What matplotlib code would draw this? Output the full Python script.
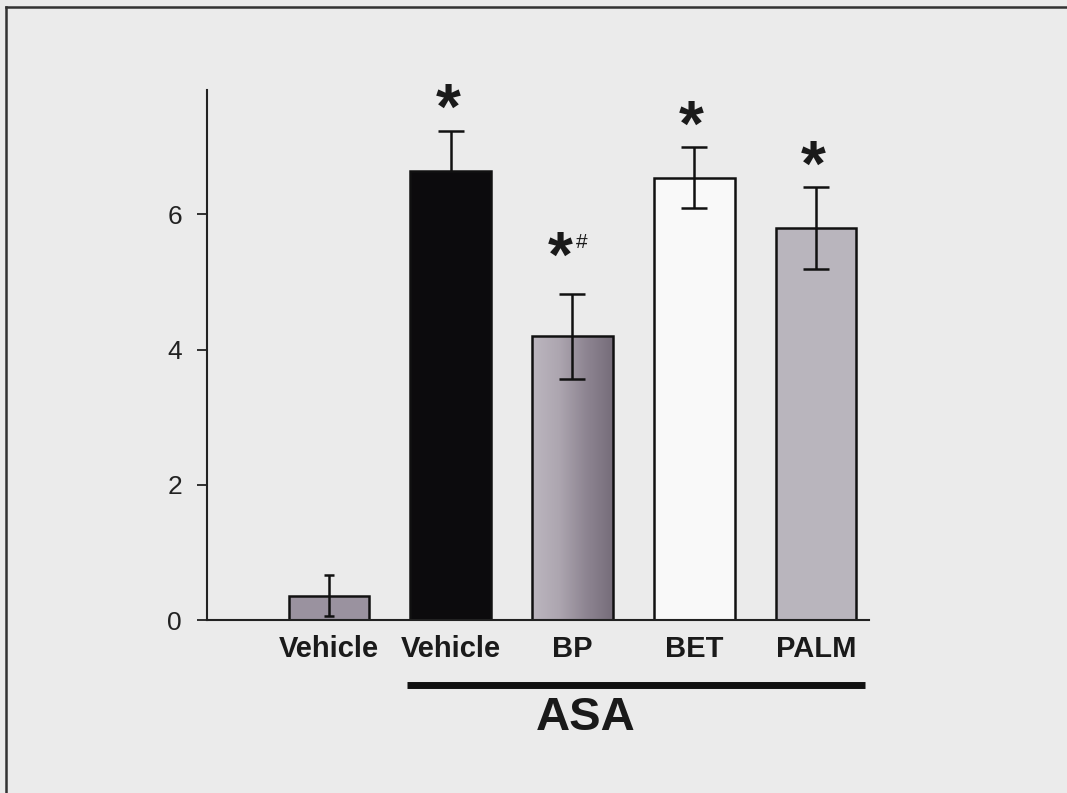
import matplotlib
matplotlib.use("Agg")
import matplotlib.pyplot as plt
import numpy as np
from matplotlib.lines import Line2D
from matplotlib.colors import LinearSegmentedColormap

# Data
groups = ["Vehicle", "Vehicle", "BP", "BET", "PALM"]
means = [0.36, 6.64, 4.20, 6.54, 5.80]
errors = [0.30, 0.60, 0.63, 0.45, 0.60]
marks = ["", "*", "*", "*", "*"]
extra_marks = ["", "", "#", "", ""]
yticks = [0, 2, 4, 6]
bracket_label = "ASA"

bg = "#ebebeb"
face_colors = ["#9a929f", "#0c0b0d", None, "#f9f9f9", "#b9b5bd"]
cap_sizes = [3.5, 9.5, 9.5, 9.5, 9.5]

narrow = ["Liberation Sans Narrow", "Liberation Sans", "DejaVu Sans"]
plain = ["Liberation Sans", "DejaVu Sans"]

fig = plt.figure(figsize=(10.67, 7.93), dpi=100, facecolor=bg)
ax = fig.add_axes([0.194, 0.218, 0.62, 0.6685])
ax.set_facecolor(bg)

x = np.arange(len(groups))
width = 0.66
bars = ax.bar(x, means, width=width, color=[c if c else "none" for c in face_colors],
              edgecolor="#111111", linewidth=1.8, zorder=2)

# gradient fill for the BP bar
grad = LinearSegmentedColormap.from_list("bp", ["#bcb6bf", "#ada6b0", "#8e8592", "#766d7a"])
b = bars[2]
x0, w, h = b.get_x(), b.get_width(), b.get_height()
img = ax.imshow(np.linspace(0, 1, 256).reshape(1, -1), cmap=grad, aspect="auto",
                extent=[x0, x0 + w, 0, h], zorder=1.5)
img.set_clip_path(b)

for i in range(len(groups)):
    # a dark bar swallows the lower whisker
    dark = face_colors[i] is not None and face_colors[i] < "#303030"
    ax.errorbar(x[i], means[i], yerr=errors[i], fmt="none", ecolor="#111111",
                elinewidth=1.8, capsize=cap_sizes[i], capthick=1.8,
                zorder=1.8 if dark else 3)

for i in range(len(groups)):
    if marks[i]:
        top = means[i] + errors[i]
        if extra_marks[i]:
            ax.annotate(marks[i], (x[i], top), xytext=(-9, 12), textcoords="offset points",
                        ha="center", va="baseline", fontsize=46, fontweight="bold",
                        family=plain, color="#1a1a1a", annotation_clip=False)
            ax.annotate(extra_marks[i], (x[i], top), xytext=(6.5, 33),
                        textcoords="offset points", ha="center", va="baseline",
                        fontsize=15, family=plain, color="#1a1a1a",
                        annotation_clip=False)
        else:
            ax.annotate(marks[i], (x[i], top), xytext=(-2, 1), textcoords="offset points",
                        ha="center", va="baseline", fontsize=46, fontweight="bold",
                        family=plain, color="#1a1a1a", annotation_clip=False)

ax.set_xlim(-1.0, 4.43)
ax.set_ylim(0, 7.84)
ax.set_yticks(yticks)
ax.set_yticklabels([str(t) for t in yticks], family=plain, fontsize=19, color="#222222")
ax.tick_params(axis="y", direction="out", length=7, width=1.3, pad=11, colors="#222222")
ax.set_xticks(x)
ax.set_xticklabels(groups, family=narrow, fontweight="bold", fontsize=21, color="#1a1a1a")
ax.tick_params(axis="x", length=0, pad=11)

for s in ["top", "right"]:
    ax.spines[s].set_visible(False)
for s in ["left", "bottom"]:
    ax.spines[s].set_linewidth(1.5)
    ax.spines[s].set_color("#222222")

# bracket under the treated groups
ax.plot([0.64, 4.40], [-0.955, -0.955], color="#111111", lw=5,
        solid_capstyle="butt", clip_on=False)
fig.text(0.549, 0.094, bracket_label, family=narrow, fontweight="bold", fontsize=34,
         ha="center", va="center", color="#1a1a1a")

# outer frame
fig.add_artist(Line2D([6 / 1067, 6 / 1067], [0, 1 - 7 / 793], color="#333333", lw=1.8,
                      transform=fig.transFigure))
fig.add_artist(Line2D([6 / 1067, 1], [1 - 7 / 793, 1 - 7 / 793], color="#333333", lw=1.8,
                      transform=fig.transFigure))

fig.savefig("out.png", dpi=100, facecolor=bg)
